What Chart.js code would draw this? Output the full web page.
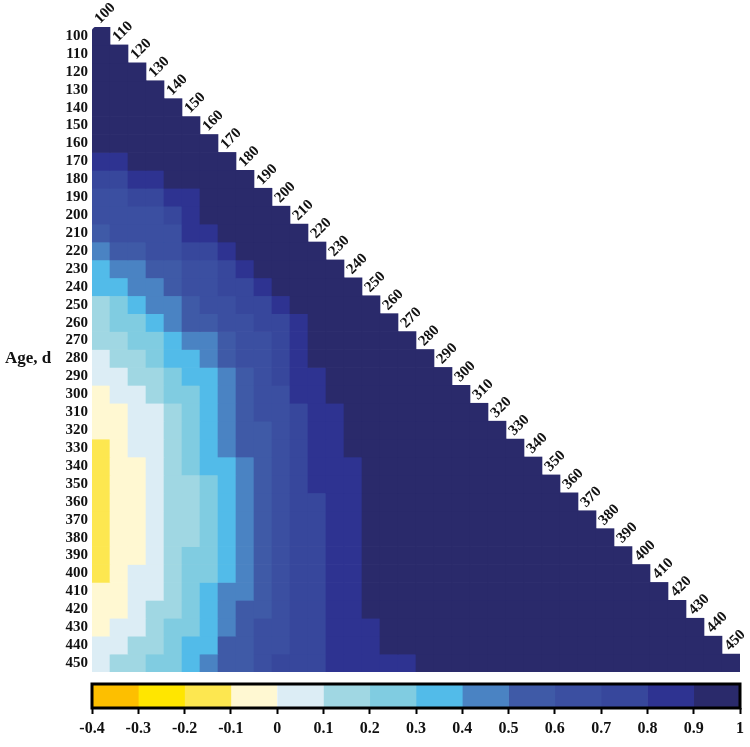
<!DOCTYPE html>
<html>
<head>
<meta charset="utf-8">
<script src="https://cdn.jsdelivr.net/npm/chart.js@4.4.1/dist/chart.umd.min.js"></script>
<style>
  html, body { margin: 0; padding: 0; background: #fff; }
  #wrap { position: relative; width: 750px; height: 747px; }
  #heat { position: absolute; left: 0; top: 0; }
  #bar { position: absolute; left: 0; top: 676px; }
</style>
</head>
<body>
<div id="wrap">
  <canvas id="heat" width="750" height="676"></canvas>
  <canvas id="bar" width="750" height="71"></canvas>
</div>
<script>
// ages (days) on both sides of the triangle
const ages = [100, 110, 120, 130, 140, 150, 160, 170, 180, 190, 200, 210, 220, 230, 240, 250, 260, 270,
              280, 290, 300, 310, 320, 330, 340, 350, 360, 370, 380, 390, 400, 410, 420, 430, 440, 450];

// colour scale: 14 bins from -0.4 to 1
const binEdges = [-0.4, -0.3, -0.2, -0.1, 0, 0.1, 0.2, 0.3, 0.4, 0.5, 0.6, 0.7, 0.8, 0.9, 1];
const edgeLabels = ['-0.4', '-0.3', '-0.2', '-0.1', '0', '0.1', '0.2', '0.3', '0.4', '0.5', '0.6', '0.7', '0.8', '0.9', '1'];
const binColors = ['#fdbf00', '#ffe600', '#fde750', '#fff8d2', '#dcedf5', '#a0d7e3', '#80cce1', '#52bbe9',
                   '#4a83c3', '#3f5aa7', '#3b4fa1', '#37479c', '#2e3391', '#2a2a6b'];

// correlation between age in row and age in column (lower triangle)
const corr = [
  [1],
  [.95, 1],
  [.95, .95, 1],
  [.95, .95, .95, 1],
  [.95, .95, .95, .95, 1],
  [.95, .95, .95, .95, .95, 1],
  [.95, .95, .95, .95, .95, .95, 1],
  [.85, .85, .95, .95, .95, .95, .95, 1],
  [.75, .75, .85, .85, .95, .95, .95, .95, 1],
  [.65, .65, .75, .75, .85, .85, .95, .95, .95, 1],
  [.65, .65, .65, .65, .75, .85, .95, .95, .95, .95, 1],
  [.55, .65, .65, .65, .65, .85, .85, .95, .95, .95, .95, 1],
  [.45, .55, .55, .65, .65, .75, .75, .85, .95, .95, .95, .95, 1],
  [.35, .45, .45, .55, .55, .65, .65, .75, .85, .95, .95, .95, .95, 1],
  [.35, .35, .45, .45, .55, .65, .65, .75, .75, .85, .95, .95, .95, .95, 1],
  [.15, .25, .35, .45, .45, .55, .65, .65, .75, .75, .85, .95, .95, .95, .95, 1],
  [.15, .25, .25, .35, .45, .55, .55, .65, .65, .75, .75, .85, .95, .95, .95, .95, 1],
  [.15, .15, .25, .25, .35, .45, .45, .55, .65, .65, .75, .85, .95, .95, .95, .95, .95, 1],
  [.05, .15, .15, .25, .35, .35, .45, .55, .65, .65, .75, .85, .95, .95, .95, .95, .95, .95, 1],
  [.05, .05, .15, .15, .25, .35, .35, .45, .55, .65, .75, .85, .85, .95, .95, .95, .95, .95, .95, 1],
  [-.05, .05, .05, .15, .25, .25, .35, .45, .55, .65, .65, .85, .85, .95, .95, .95, .95, .95, .95, .95, 1],
  [-.05, -.05, .05, .05, .15, .25, .35, .45, .55, .65, .65, .75, .85, .85, .95, .95, .95, .95, .95, .95, .95, 1],
  [-.05, -.05, .05, .05, .15, .25, .35, .45, .55, .55, .65, .75, .85, .85, .95, .95, .95, .95, .95, .95, .95, .95, 1],
  [-.15, -.05, .05, .05, .15, .25, .35, .45, .55, .55, .65, .75, .85, .85, .95, .95, .95, .95, .95, .95, .95, .95, .95, 1],
  [-.15, -.05, -.05, .05, .15, .25, .35, .35, .45, .55, .65, .75, .85, .85, .85, .95, .95, .95, .95, .95, .95, .95, .95, .95, 1],
  [-.15, -.05, -.05, .05, .15, .15, .25, .35, .45, .55, .65, .75, .85, .85, .85, .95, .95, .95, .95, .95, .95, .95, .95, .95, .95, 1],
  [-.15, -.05, -.05, .05, .15, .15, .25, .35, .45, .55, .65, .75, .75, .85, .85, .95, .95, .95, .95, .95, .95, .95, .95, .95, .95, .95, 1],
  [-.15, -.05, -.05, .05, .15, .15, .25, .35, .45, .55, .65, .75, .75, .85, .85, .95, .95, .95, .95, .95, .95, .95, .95, .95, .95, .95, .95, 1],
  [-.15, -.05, -.05, .05, .15, .15, .25, .35, .45, .55, .65, .75, .75, .85, .85, .95, .95, .95, .95, .95, .95, .95, .95, .95, .95, .95, .95, .95, 1],
  [-.15, -.05, -.05, .05, .15, .25, .25, .35, .45, .55, .65, .75, .75, .85, .85, .95, .95, .95, .95, .95, .95, .95, .95, .95, .95, .95, .95, .95, .95, 1],
  [-.15, -.05, .05, .05, .15, .25, .25, .35, .45, .55, .65, .75, .75, .85, .85, .95, .95, .95, .95, .95, .95, .95, .95, .95, .95, .95, .95, .95, .95, .95, 1],
  [-.05, -.05, .05, .05, .15, .25, .35, .45, .45, .55, .65, .75, .75, .85, .85, .95, .95, .95, .95, .95, .95, .95, .95, .95, .95, .95, .95, .95, .95, .95, .95, 1],
  [-.05, -.05, .05, .15, .15, .25, .35, .45, .55, .55, .65, .75, .75, .85, .85, .95, .95, .95, .95, .95, .95, .95, .95, .95, .95, .95, .95, .95, .95, .95, .95, .95, 1],
  [-.05, .05, .05, .15, .25, .25, .35, .45, .55, .65, .65, .75, .75, .85, .85, .85, .95, .95, .95, .95, .95, .95, .95, .95, .95, .95, .95, .95, .95, .95, .95, .95, .95, 1],
  [.05, .05, .15, .15, .25, .35, .35, .55, .55, .65, .65, .75, .75, .85, .85, .85, .95, .95, .95, .95, .95, .95, .95, .95, .95, .95, .95, .95, .95, .95, .95, .95, .95, .95, 1],
  [.05, .15, .15, .25, .25, .35, .45, .55, .55, .65, .75, .75, .75, .85, .85, .85, .85, .85, .95, .95, .95, .95, .95, .95, .95, .95, .95, .95, .95, .95, .95, .95, .95, .95, .95, 1]
];

const FONT = 'Liberation Serif, Times New Roman, serif';

const colorOf = (v) => {
  for (let k = 0; k < binColors.length; k++) {
    if (v < binEdges[k + 1]) return binColors[k];
  }
  return binColors[binColors.length - 1];
};

// one floating-bar dataset per row, bars overlap (not grouped) so each one fills its cell
const rowSets = corr.map((row, i) => ({
  data: ages.map((a, j) => (j <= i ? [i - 0.5, i + 0.5] : null)),
  backgroundColor: (c) => colorOf(row[c.dataIndex]),
  borderWidth: 0,
  borderSkipped: false,
  // only the very first cell has a rounded corner in the original
  borderRadius: i === 0 ? { topLeft: 5, topRight: 0, bottomLeft: 0, bottomRight: 0 } : 0,
  barPercentage: 1,
  categoryPercentage: 1,
  grouped: false
}));

const diagLabels = {
  id: 'diagLabels',
  afterDraw(chart) {
    const { ctx, scales: { x, y } } = chart;
    ctx.save();
    ctx.fillStyle = '#111';
    ctx.font = 'bold 15px ' + FONT;
    ctx.textAlign = 'left';
    ctx.textBaseline = 'alphabetic';
    ages.forEach((a, j) => {
      ctx.save();
      ctx.translate(x.getPixelForValue(j) - 1, y.getPixelForValue(j - 0.5) - 3);
      ctx.rotate(-Math.PI / 4);
      ctx.fillText(String(a), 0, 0);
      ctx.restore();
    });
    // axis name sits on the 280 row
    ctx.font = 'bold 17px ' + FONT;
    ctx.textBaseline = 'middle';
    ctx.fillText('Age, d', 5, y.getPixelForValue(18));
    ctx.restore();
  }
};

new Chart(document.getElementById('heat'), {
  type: 'bar',
  data: { labels: ages, datasets: rowSets },
  options: {
    responsive: false,
    animation: false,
    events: [],
    layout: { padding: { top: 27, right: 10, bottom: 4, left: 0 } },
    plugins: { legend: { display: false }, tooltip: { enabled: false } },
    scales: {
      x: { display: false },
      y: {
        type: 'linear',
        reverse: true,
        min: -0.5,
        max: 35.5,
        afterBuildTicks: (s) => { s.ticks = ages.map((a, i) => ({ value: i })); },
        afterFit: (s) => { s.width = 92; s.paddingTop = 0; s.paddingBottom = 0; },
        grid: { display: false, drawTicks: false },
        border: { display: false },
        ticks: {
          autoSkip: false,
          padding: 4,
          color: '#111',
          font: { family: FONT, weight: 'bold', size: 15 },
          callback: (v) => ages[v]
        }
      }
    }
  },
  plugins: [diagLabels]
});

const frame = {
  id: 'frame',
  afterDatasetsDraw(chart) {
    const { ctx, chartArea: a } = chart;
    ctx.save();
    ctx.strokeStyle = '#000';
    ctx.lineWidth = 3;
    ctx.strokeRect(a.left, a.top, a.right - a.left, a.bottom - a.top);
    ctx.restore();
  }
};

new Chart(document.getElementById('bar'), {
  type: 'bar',
  data: {
    labels: [''],
    datasets: binColors.map((c, k) => ({
      data: [[binEdges[k], binEdges[k + 1]]],
      backgroundColor: c,
      borderWidth: 0,
      barPercentage: 1,
      categoryPercentage: 1,
      grouped: false
    }))
  },
  options: {
    indexAxis: 'y',
    responsive: false,
    animation: false,
    events: [],
    layout: { padding: { top: 8, right: 10, bottom: 0, left: 92 } },
    plugins: { legend: { display: false }, tooltip: { enabled: false } },
    scales: {
      y: { display: false },
      x: {
        type: 'linear',
        min: -0.4,
        max: 1,
        afterBuildTicks: (s) => { s.ticks = binEdges.map((v) => ({ value: v })); },
        afterFit: (s) => { s.height = 39; s.paddingLeft = 0; s.paddingRight = 0; },
        grid: { drawOnChartArea: false, tickLength: 6, tickColor: '#000', tickWidth: 2 },
        border: { display: false },
        ticks: {
          autoSkip: false,
          maxRotation: 0,
          padding: 5,
          color: '#111',
          font: { family: FONT, weight: 'bold', size: 16 },
          callback: (v, i) => edgeLabels[i]
        }
      }
    }
  },
  plugins: [frame]
});
</script>
</body>
</html>
